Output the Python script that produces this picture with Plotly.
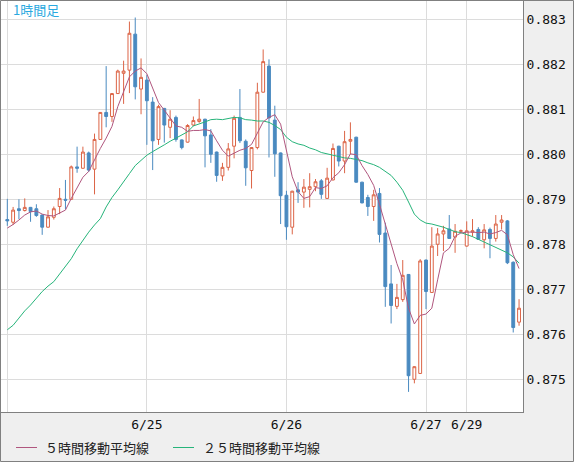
import plotly.graph_objects as go

# ---- data (hourly candles, index 0 = 6/24 00:00) ----
open_ = [
0.87855, 0.87849, 0.87879, 0.87875, 0.87882, 0.87879, 0.87865, 0.87838, 0.87860, 0.87884,
0.87900, 0.87900, 0.87972, 0.87969, 0.88003, 0.87967, 0.88033, 0.88093, 0.88084, 0.88135,
0.88180, 0.88187, 0.88267, 0.88145, 0.88165, 0.88116, 0.88033, 0.88102, 0.88060, 0.88082,
0.88032, 0.88027, 0.88065, 0.88073, 0.88078, 0.88043, 0.88005, 0.87952, 0.87971, 0.88018,
0.88082, 0.88029, 0.87964, 0.88015, 0.88138, 0.88196, 0.88076, 0.88003, 0.87909, 0.87838,
0.87921, 0.87916, 0.87922, 0.87928, 0.87941, 0.87902, 0.87943, 0.88018, 0.87985, 0.88029,
0.88038, 0.87938, 0.87904, 0.87884, 0.87913, 0.87825, 0.87712, 0.87662, 0.87677, 0.87733,
0.87500, 0.87513, 0.87765, 0.87693, 0.87800, 0.87823, 0.87834, 0.87816, 0.87829, 0.87796,
0.87827, 0.87833, 0.87810, 0.87833, 0.87813, 0.87849, 0.87852, 0.87760, 0.87627]

high = [
0.87901, 0.87883, 0.87900, 0.87902, 0.87883, 0.87889, 0.87866, 0.87876, 0.87884, 0.87925,
0.87943, 0.87975, 0.88017, 0.88017, 0.88006, 0.88046, 0.88094, 0.88196, 0.88136, 0.88188,
0.88208, 0.88295, 0.88304, 0.88213, 0.88176, 0.88127, 0.88110, 0.88103, 0.88098, 0.88086,
0.88033, 0.88067, 0.88084, 0.88123, 0.88079, 0.88056, 0.88006, 0.87981, 0.88025, 0.88086,
0.88145, 0.88033, 0.88016, 0.88159, 0.88233, 0.88211, 0.88108, 0.88004, 0.87919, 0.87919,
0.87938, 0.87945, 0.87958, 0.87945, 0.87945, 0.87970, 0.88024, 0.88019, 0.88052, 0.88071,
0.88039, 0.87939, 0.87910, 0.87921, 0.87925, 0.87848, 0.87754, 0.87712, 0.87765, 0.87734,
0.87529, 0.87767, 0.87766, 0.87838, 0.87836, 0.87841, 0.87865, 0.87845, 0.87833, 0.87851,
0.87856, 0.87838, 0.87845, 0.87837, 0.87865, 0.87865, 0.87854, 0.87762, 0.87678]

low = [
0.87841, 0.87843, 0.87856, 0.87873, 0.87850, 0.87861, 0.87821, 0.87837, 0.87855, 0.87867,
0.87878, 0.87899, 0.87959, 0.87968, 0.87961, 0.87911, 0.88032, 0.88060, 0.88072, 0.88134,
0.88112, 0.88136, 0.88122, 0.88089, 0.88021, 0.87965, 0.88021, 0.88026, 0.88036, 0.88028,
0.88011, 0.88026, 0.88063, 0.88070, 0.87971, 0.87981, 0.87939, 0.87941, 0.87964, 0.87991,
0.88025, 0.87930, 0.87924, 0.88011, 0.88137, 0.87993, 0.87950, 0.87845, 0.87810, 0.87822,
0.87892, 0.87881, 0.87882, 0.87918, 0.87901, 0.87901, 0.87942, 0.87973, 0.87958, 0.88000,
0.87937, 0.87891, 0.87863, 0.87852, 0.87804, 0.87661, 0.87624, 0.87656, 0.87672, 0.87472,
0.87491, 0.87512, 0.87656, 0.87692, 0.87774, 0.87785, 0.87812, 0.87781, 0.87826, 0.87795,
0.87817, 0.87810, 0.87791, 0.87769, 0.87806, 0.87833, 0.87756, 0.87604, 0.87619]

close = [
0.87852, 0.87876, 0.87875, 0.87882, 0.87873, 0.87864, 0.87838, 0.87861, 0.87879, 0.87902,
0.87898, 0.87972, 0.87969, 0.88005, 0.87965, 0.88033, 0.88093, 0.88084, 0.88135, 0.88185,
0.88185, 0.88269, 0.88150, 0.88171, 0.88119, 0.88030, 0.88106, 0.88065, 0.88078, 0.88033,
0.88015, 0.88064, 0.88075, 0.88078, 0.88041, 0.88000, 0.87953, 0.87971, 0.88012, 0.88080,
0.88030, 0.87970, 0.88015, 0.88138, 0.88206, 0.88081, 0.88001, 0.87908, 0.87839, 0.87918,
0.87916, 0.87927, 0.87928, 0.87939, 0.87911, 0.87947, 0.88013, 0.87985, 0.88028, 0.88033,
0.87938, 0.87892, 0.87884, 0.87910, 0.87822, 0.87706, 0.87664, 0.87682, 0.87731, 0.87508,
0.87528, 0.87763, 0.87695, 0.87796, 0.87823, 0.87830, 0.87813, 0.87829, 0.87830, 0.87830,
0.87830, 0.87811, 0.87832, 0.87813, 0.87845, 0.87854, 0.87759, 0.87615, 0.87658]

ma5 = [
0.87836, 0.87844, 0.87854, 0.87865, 0.87872, 0.87874, 0.87867, 0.87864, 0.87863, 0.87869,
0.87876, 0.87902, 0.87924, 0.87949, 0.87962, 0.87989, 0.88013, 0.88036, 0.88062, 0.88106,
0.88137, 0.88172, 0.88185, 0.88192, 0.88179, 0.88148, 0.88115, 0.88098, 0.88080, 0.88063,
0.88060, 0.88051, 0.88053, 0.88053, 0.88055, 0.88052, 0.88030, 0.88009, 0.87996, 0.88003,
0.88009, 0.88013, 0.88022, 0.88047, 0.88072, 0.88082, 0.88088, 0.88067, 0.88007, 0.87950,
0.87917, 0.87902, 0.87906, 0.87926, 0.87924, 0.87930, 0.87948, 0.87959, 0.87977, 0.88001,
0.87999, 0.87975, 0.87955, 0.87931, 0.87889, 0.87843, 0.87797, 0.87757, 0.87721, 0.87658,
0.87623, 0.87642, 0.87645, 0.87658, 0.87721, 0.87781, 0.87791, 0.87818, 0.87825, 0.87827,
0.87827, 0.87826, 0.87827, 0.87823, 0.87826, 0.87831, 0.87821, 0.87777, 0.87746]

ma25 = [
0.87610, 0.87620, 0.87636, 0.87652, 0.87665, 0.87680, 0.87695, 0.87707, 0.87717, 0.87734,
0.87750, 0.87768, 0.87790, 0.87810, 0.87827, 0.87843, 0.87857, 0.87883, 0.87904, 0.87921,
0.87940, 0.87957, 0.87975, 0.87987, 0.87998, 0.88006, 0.88013, 0.88021, 0.88029, 0.88036,
0.88043, 0.88050, 0.88063, 0.88067, 0.88072, 0.88077, 0.88078, 0.88077, 0.88080, 0.88082,
0.88081, 0.88077, 0.88076, 0.88074, 0.88074, 0.88071, 0.88064, 0.88055, 0.88038, 0.88028,
0.88023, 0.88020, 0.88014, 0.88010, 0.88004, 0.88001, 0.87997, 0.87995, 0.87992, 0.87991,
0.87988, 0.87986, 0.87981, 0.87977, 0.87971, 0.87962, 0.87953, 0.87938, 0.87920, 0.87894,
0.87867, 0.87854, 0.87847, 0.87845, 0.87842, 0.87838, 0.87833, 0.87828, 0.87826, 0.87822,
0.87817, 0.87811, 0.87805, 0.87798, 0.87792, 0.87786, 0.87781, 0.87772, 0.87758]

day_ticks = [0, 24, 48, 72, 79]
day_labels = ["", "6/25", "6/26", "6/27", "6/29"]
legend_names = ["５時間移動平均線", "２５時間移動平均線"]
title_text = "1時間足"

x = list(range(len(open_)))

UP = "#dc6446"
DOWN = "#4a8ac0"
MA5_C = "#b0567e"
MA25_C = "#26b47a"

fig = go.Figure()
fig.add_trace(go.Candlestick(
    x=x, open=open_, high=high, low=low, close=close,
    increasing=dict(line=dict(color=UP, width=1), fillcolor="white"),
    decreasing=dict(line=dict(color=DOWN, width=1), fillcolor=DOWN),
    whiskerwidth=0, hoverinfo="skip", showlegend=False))
fig.add_trace(go.Scatter(x=x, y=ma25, mode="lines",
                         line=dict(color=MA25_C, width=1), hoverinfo="skip", showlegend=False))
fig.add_trace(go.Scatter(x=x, y=ma5, mode="lines",
                         line=dict(color=MA5_C, width=1), hoverinfo="skip", showlegend=False))

W, H = 574, 462
PL, PR, PT, PB = 0, 51, 0, 50
pw = W - PL - PR
ph = H - PT - PB

def px_x(p):
    return (p - PL) / pw

def px_y(p):
    return (PT + ph - p) / ph

tickfont = dict(family="DejaVu Sans Mono", size=13, color="#111111")

fig.update_layout(
    width=W, height=H,
    margin=dict(l=PL, r=PR, t=PT, b=PB, pad=0),
    paper_bgcolor="#efefef", plot_bgcolor="white",
    showlegend=False,
    xaxis=dict(range=[-1.255, 88.68], tickmode="array", tickvals=day_ticks, ticktext=day_labels,
               showgrid=True, gridcolor="#dcdcdc", gridwidth=1, zeroline=False,
               showline=True, linecolor="#808080", linewidth=1, mirror=True,
               ticks="", tickfont=tickfont, rangeslider=dict(visible=False), fixedrange=True),
    yaxis=dict(range=[0.874273, 0.883429], side="right", tick0=0.875, dtick=0.001,
               tickformat=".3f", showgrid=True, gridcolor="#dcdcdc", gridwidth=1,
               zeroline=False, showline=True, linecolor="#808080", linewidth=1, mirror=True,
               ticks="", tickfont=tickfont, fixedrange=True),
)

shapes = [
    dict(type="rect", xref="paper", yref="paper",
         x0=px_x(0.5), x1=px_x(573.5), y0=px_y(461.5), y1=px_y(0.5),
         line=dict(color="#808080", width=1), fillcolor="rgba(0,0,0,0)", layer="above"),
    dict(type="line", xref="paper", yref="paper", x0=px_x(16), x1=px_x(37),
         y0=px_y(447.5), y1=px_y(447.5), line=dict(color=MA5_C, width=1)),
    dict(type="line", xref="paper", yref="paper", x0=px_x(173), x1=px_x(194),
         y0=px_y(447.5), y1=px_y(447.5), line=dict(color=MA25_C, width=1)),
]
fig.update_layout(shapes=shapes)

jp = dict(family="Noto Sans CJK JP", size=13, color="#222222")
fig.add_annotation(x=px_x(43), y=px_y(447.5), xref="paper", yref="paper", text=legend_names[0],
                   showarrow=False, xanchor="left", yanchor="middle", font=jp)
fig.add_annotation(x=px_x(201), y=px_y(447.5), xref="paper", yref="paper", text=legend_names[1],
                   showarrow=False, xanchor="left", yanchor="middle", font=jp)
fig.add_annotation(x=px_x(11), y=px_y(10), xref="paper", yref="paper", text=title_text,
                   showarrow=False, xanchor="left", yanchor="middle",
                   font=dict(family="Noto Sans CJK JP", size=13, color="#2aa9e0"))

fig.write_html("out.html", config={"displayModeBar": False, "staticPlot": True})
